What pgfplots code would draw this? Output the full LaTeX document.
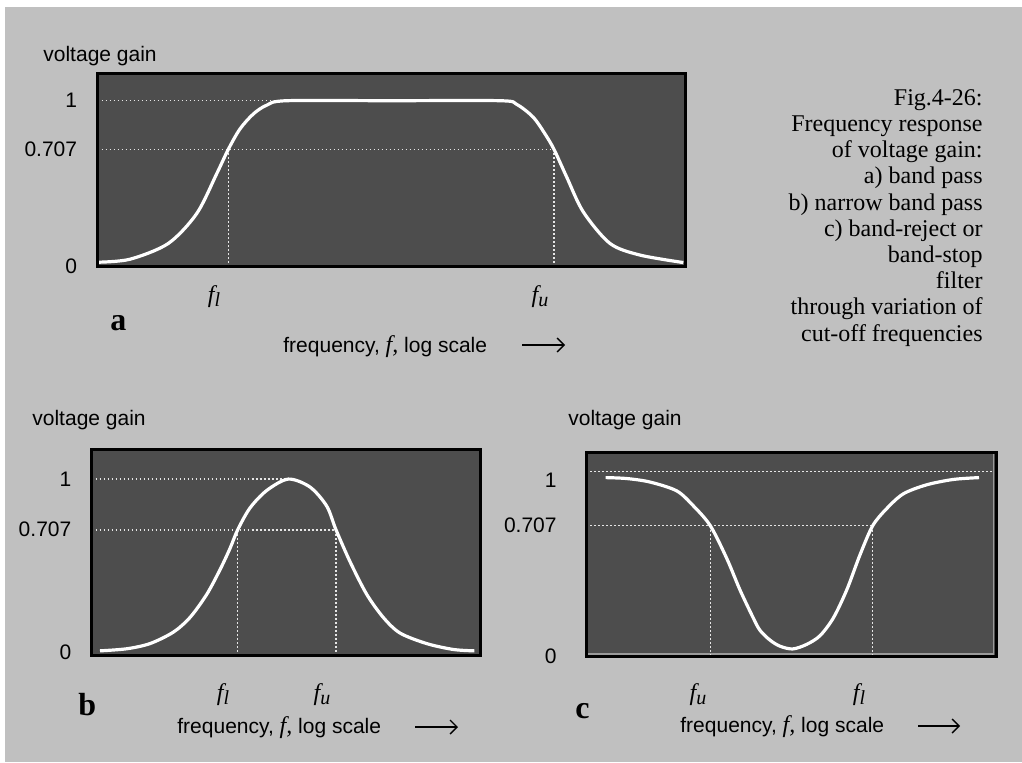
\documentclass[border=0pt]{standalone}
\usepackage{fontspec}
\setmainfont{Liberation Serif}
\setsansfont{Liberation Sans}
\usepackage{pgfplots}
\pgfplotsset{compat=1.18}
\usetikzlibrary{arrows.meta}

\definecolor{pagebg}{HTML}{C0C0C0}
\definecolor{plotbg}{HTML}{4D4D4D}
\definecolor{dotc}{HTML}{E6E6E6}
\definecolor{bevel}{HTML}{9A9A9A}

\pgfplotsset{
  gainaxis/.style={
    scale only axis,
    axis on top,
    clip=false,
    axis background/.style={fill=plotbg},
    axis line style={black, line width=1.5pt},
    xtick=\empty,
    ytick={0,0.707,1},
    ytick style={draw=none},
    yticklabel style={font=\sffamily\fontsize{10.5}{12}\selectfont, inner sep=0pt, anchor=east},
  },
  curve/.style={white, line width=1.6pt, smooth},
  guide/.style={dotc, line width=0.75pt, dash pattern=on 0.9pt off 1.1pt},
}

\begin{document}
\begin{tikzpicture}
% page background (1 px = 0.5 pt)
\fill[white] (0,0) rectangle (511pt,381pt);
\fill[pagebg] (2.5pt,0) rectangle (511pt,377.5pt);

% a) band pass
\begin{axis}[gainaxis,
  at={(48.75pt,247.65pt)}, anchor=south west,
  width=293.75pt, height=96.6pt,
  xmin=97.5, xmax=685, ymin=0, ymax=1.164,
  yticklabels={0,0.707,1\hspace{5pt}},
  yticklabel style={xshift=-10pt}]
\addplot[guide] coordinates {(97.5,1) (285,1)};
\addplot[guide] coordinates {(97.5,0.707) (554,0.707)};
\addplot[guide] coordinates {(228.3,0.707) (228.3,0)};
\addplot[guide] coordinates {(554,0.707) (554,0)};
\addplot[curve] coordinates {
  (98,0.027) (130,0.045) (168.3,0.14) (196.7,0.32) (216.7,0.56)
  (228.3,0.707) (240,0.83) (253.3,0.92) (266.7,0.973) (286.7,1.0)
  (390,1.0) (500,1.0) (516.7,0.978) (533.3,0.90) (545,0.80)
  (554,0.707) (566.7,0.54) (583.3,0.33) (610,0.14) (640,0.07)
  (683.3,0.025)};
\end{axis}

% b) narrow band pass
\begin{axis}[gainaxis,
  at={(45.85pt,53.5pt)}, anchor=south west,
  width=194.15pt, height=102.75pt,
  xmin=91.7, xmax=480, ymin=-0.017, ymax=1.171,
  yticklabels={0\hspace{1pt},0.707,1\hspace{2.5pt}},
  yticklabel style={xshift=-10pt}]
\addplot[guide] coordinates {(91.7,1) (288.3,1)};
\addplot[guide] coordinates {(91.7,0.707) (336,0.707)};
\addplot[guide] coordinates {(237.7,0.707) (237.7,-0.017)};
\addplot[guide] coordinates {(336,0.707) (336,-0.017)};
\addplot[curve] coordinates {
  (100,0.007) (126.7,0.019) (150,0.049) (173.3,0.115) (190,0.20)
  (206.7,0.333) (220,0.476) (230,0.599) (237.7,0.707) (250,0.833)
  (266.7,0.934) (288.3,1.0) (310,0.954) (326.7,0.844) (336,0.707)
  (350,0.523) (366.7,0.334) (383.3,0.20) (400,0.11) (426.7,0.049)
  (453.3,0.015) (474.3,0.007)};
\end{axis}

% c) band-reject / band-stop
\begin{axis}[gainaxis,
  at={(293pt,52.65pt)}, anchor=south west,
  width=205.15pt, height=102.35pt,
  xmin=586, xmax=996.3, ymin=-0.004, ymax=1.107,
  yticklabels={0\hspace{-2pt},0.707,\smash{\raisebox{-7.75pt}{1}}\hspace{4.5pt}},
  yticklabel style={xshift=-14.5pt}]
\draw[bevel, line width=0.8pt] (axis cs:588,0.011) -- (axis cs:993.3,0.011) -- (axis cs:993.3,1.095);
\addplot[guide] coordinates {(586,1) (993,1)};
\addplot[guide] coordinates {(586,0.707) (872.7,0.707)};
\addplot[guide] coordinates {(710.3,0.707) (710.3,-0.004)};
\addplot[guide] coordinates {(872.7,0.707) (872.7,-0.004)};
\addplot[curve] coordinates {
  (605.7,0.968) (626.7,0.963) (650,0.944) (676.7,0.896) (693.3,0.815)
  (710.3,0.707) (726.7,0.530) (740,0.358) (753.3,0.206) (760,0.139)
  (770,0.086) (780,0.053) (792.7,0.038) (806.7,0.063) (820,0.110)
  (833.3,0.206) (846.7,0.358) (860,0.549) (872.7,0.707) (886.7,0.800)
  (903.3,0.880) (926.7,0.929) (953.3,0.958) (979,0.968)};
\end{axis}

% texts, placed in pixel units (y downwards)
\begin{scope}[shift={(0,381pt)}, x=0.5pt, y=-0.5pt,
  every node/.style={inner sep=0pt}]
  \tikzset{sans/.style={font=\sffamily\fontsize{10.5}{12}\selectfont},
           fl/.style={font=\fontsize{12}{14}\selectfont\itshape},
           panel/.style={font=\fontsize{16}{18}\selectfont\bfseries}}
  \node[sans, anchor=base west] at (43,62) {voltage gain};
  \node[sans, anchor=base west] at (32,425) {voltage gain};
  \node[sans, anchor=base west] at (568,425) {voltage gain};

  \node[fl] at (214,297) {f\raisebox{-0.35ex}{\fontsize{10}{12}\selectfont l}};
  \node[fl] at (540,297) {f\raisebox{-0.35ex}{\fontsize{10}{12}\selectfont u}};
  \node[fl] at (223,695) {f\raisebox{-0.35ex}{\fontsize{10}{12}\selectfont l}};
  \node[fl] at (322,695) {f\raisebox{-0.35ex}{\fontsize{10}{12}\selectfont u}};
  \node[fl] at (698,695) {f\raisebox{-0.35ex}{\fontsize{10}{12}\selectfont u}};
  \node[fl] at (859,695) {f\raisebox{-0.35ex}{\fontsize{10}{12}\selectfont l}};

  \node[panel, anchor=base west] at (110,330) {a};
  \node[panel, anchor=base west] at (78,715) {b};
  \node[panel, anchor=base west] at (575,718) {c};

  \node[sans, anchor=base west] at (283,352) {frequency, {\rmfamily\itshape\fontsize{12}{14}\selectfont f,} log scale};
  \node[sans, anchor=base west] at (177,733) {frequency, {\rmfamily\itshape\fontsize{12}{14}\selectfont f,} log scale};
  \node[sans, anchor=base west] at (680,732) {frequency, {\rmfamily\itshape\fontsize{12}{14}\selectfont f,} log scale};

  \draw[line width=0.7pt, -{Straight Barb[length=3.5pt]}] (522,345) -- (565,345);
  \draw[line width=0.7pt, -{Straight Barb[length=3.5pt]}] (415,727) -- (458,727);
  \draw[line width=0.7pt, -{Straight Barb[length=3.5pt]}] (918,726) -- (960,726);

  \node[anchor=north east, align=right, font=\fontsize{12}{13.1}\selectfont] at (983,89)
    {Fig.4-26:\\ Frequency response\\ of voltage gain:\\ a) band pass\\
     b) narrow band pass\\ c) band-reject or\\ band-stop\\ filter\\
     through variation of\\ cut-off frequencies};
\end{scope}
\end{tikzpicture}
\end{document}
